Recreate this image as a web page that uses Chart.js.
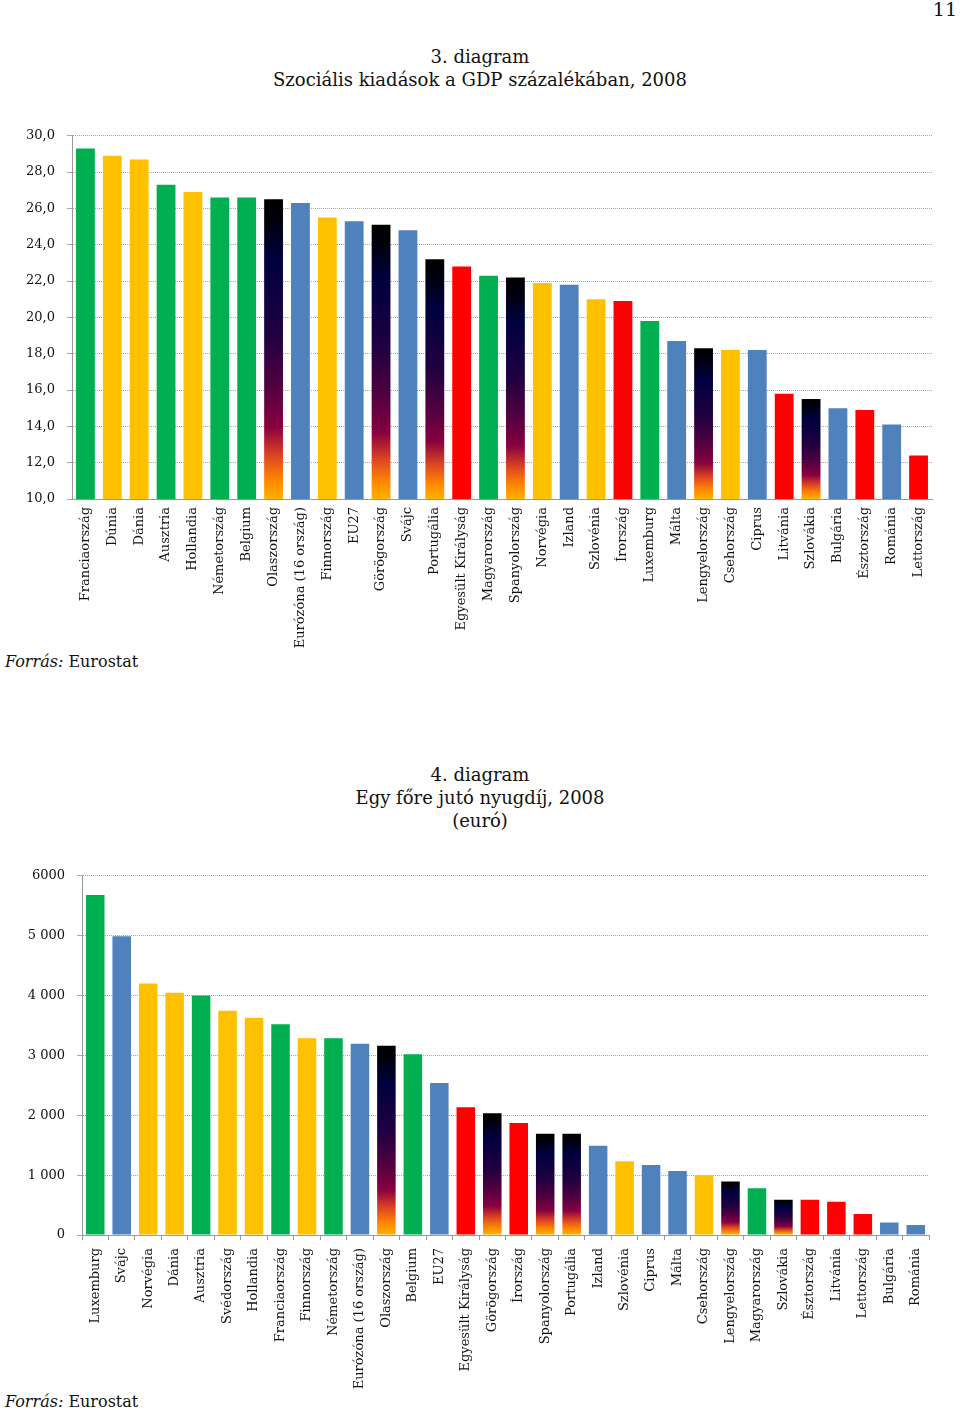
<!DOCTYPE html>
<html lang="hu">
<head>
<meta charset="utf-8">
<script src="https://cdn.jsdelivr.net/npm/chart.js@4.4.1/dist/chart.umd.min.js"></script>
<style>
  html, body { margin: 0; padding: 0; background: #fff; }
  body { width: 960px; height: 1410px; position: relative; overflow: hidden; font-family: "DejaVu Serif", serif; color: #111; }
  .t { position: absolute; left: 0; width: 960px; text-align: center; font-size: 18px; line-height: 23px; }
  .page { position: absolute; right: 3px; top: -2px; font-size: 19px; }
  .src { position: absolute; left: 5px; font-size: 16px; }
  .src i { font-style: italic; }
  canvas { position: absolute; left: 0; }
</style>
</head>
<body>
<div class="page">11</div>
<div class="t" style="top:45px">3. diagram<br>Szociális kiadások a GDP százalékában, 2008</div>
<canvas id="c1" width="960" height="534" style="top:116px"></canvas>
<div class="src" style="top:652px"><i>Forrás:</i> Eurostat</div>

<div class="t" style="top:763px">4. diagram<br>Egy főre jutó nyugdíj, 2008<br>(euró)</div>
<canvas id="c2" width="960" height="534" style="top:856px"></canvas>
<div class="src" style="top:1392px"><i>Forrás:</i> Eurostat</div>

<script>
// ---------- Chart 3 data ----------
const countries3 = ['Franciaország','Dúnia','Dánia','Ausztria','Hollandia','Németország','Belgium','Olaszország','Eurózóna (16 ország)','Finnország','EU27','Görögország','Svájc','Portugália','Egyesült Királyság','Magyarország','Spanyolország','Norvégia','Izland','Szlovénia','Írország','Luxemburg','Málta','Lengyelország','Csehország','Ciprus','Litvánia','Szlovákia','Bulgária','Észtország','Románia','Lettország'];
const values3 = [29.3,28.9,28.7,27.3,26.9,26.6,26.6,26.5,26.3,25.5,25.3,25.1,24.8,23.2,22.8,22.3,22.2,21.9,21.8,21.0,20.9,19.8,18.7,18.3,18.2,18.2,15.8,15.5,15.0,14.9,14.1,12.4];
const groups3 = ['G','Y','Y','G','Y','G','G','X','B','Y','B','X','B','X','R','G','X','Y','B','Y','R','G','B','X','Y','B','R','X','B','R','B','R'];
const yTicks3 = ['10,0','12,0','14,0','16,0','18,0','20,0','22,0','24,0','26,0','28,0','30,0'];

// ---------- Chart 4 data ----------
const countries4 = ['Luxemburg','Svájc','Norvégia','Dánia','Ausztria','Svédország','Hollandia','Franciaország','Finnország','Németország','Eurózóna (16 ország)','Olaszország','Belgium','EU27','Egyesült Királyság','Görögország','Írország','Spanyolország','Portugália','Izland','Szlovénia','Ciprus','Málta','Csehország','Lengyelország','Magyarország','Szlovákia','Észtország','Litvánia','Lettország','Bulgária','Románia'];
const values4 = [5680,4990,4200,4045,4000,3745,3630,3520,3285,3285,3195,3160,3020,2540,2135,2035,1870,1690,1690,1490,1230,1170,1070,1000,895,780,590,590,555,350,210,165];
const groups4 = ['G','B','Y','Y','G','Y','Y','G','Y','G','B','X','G','B','R','X','R','X','X','B','Y','B','B','Y','X','G','X','R','R','R','B','B'];
const yTicks4 = ['0','1 000','2 000','3 000','4 000','5 000','6000'];

const palette = { G: '#00B050', Y: '#FFC000', B: '#4F81BD', R: '#FF0000' };

function fillFor(groups) {
  return function (ctx) {
    const g = groups[ctx.dataIndex];
    if (g !== 'X') return palette[g];
    const chart = ctx.chart;
    if (!chart.chartArea || !chart.scales.y) return '#000';
    const ys = chart.scales.y;
    const top = ys.getPixelForValue(ctx.raw);
    const bot = ys.getPixelForValue(ys.min);
    const gr = chart.ctx.createLinearGradient(0, top, 0, bot);
    gr.addColorStop(0.00, '#000000');
    gr.addColorStop(0.08, '#000010');
    gr.addColorStop(0.20, '#000040');
    gr.addColorStop(0.45, '#200040');
    gr.addColorStop(0.62, '#500040');
    gr.addColorStop(0.76, '#880040');
    gr.addColorStop(0.86, '#e04820');
    gr.addColorStop(0.94, '#ff8a00');
    gr.addColorStop(1.00, '#ffb000');
    return gr;
  };
}

const tickFont = { family: 'DejaVu Serif', size: 13 };
const labelFont = { family: 'DejaVu Serif', size: 13 };

function makeChart(id, labels, values, groups, yTicks, cfg) {
  return new Chart(document.getElementById(id), {
    type: 'bar',
    data: {
      labels: labels,
      datasets: [{
        data: values,
        backgroundColor: fillFor(groups),
        borderWidth: 0,
        barPercentage: cfg.barPct,
        categoryPercentage: 1.0
      }]
    },
    options: {
      responsive: false,
      animation: false,
      devicePixelRatio: 1,
      layout: { padding: { top: 11, right: cfg.padRight, left: 0, bottom: 0 } },
      plugins: { legend: { display: false }, tooltip: { enabled: false }, title: { display: false } },
      scales: {
        x: {
          offset: true,
          grid: { display: cfg.xTicks, drawOnChartArea: false, drawTicks: cfg.xTicks, tickLength: 5, offset: true, color: '#999' },
          border: { display: true, color: '#999', width: 1 },
          ticks: { autoSkip: false, minRotation: 90, maxRotation: 90, color: '#111', font: labelFont, padding: cfg.xPad },
          afterFit: function (s) { s.height = cfg.xHeight; }
        },
        y: {
          min: cfg.min, max: cfg.max,
          grid: { color: '#a6a6a6', drawTicks: true, tickLength: 5 },
          border: { display: true, color: '#999', width: 1, dash: [1, 1] },
          ticks: {
            stepSize: cfg.step,
            color: '#111',
            font: tickFont,
            padding: 12,
            callback: function (v, i) { return yTicks[i]; }
          },
          afterFit: function (s) { s.width = cfg.yWidth; }
        }
      }
    }
  });
}

makeChart('c1', countries3, values3, groups3, yTicks3, {
  min: 10, max: 30, step: 2, yWidth: 72, padRight: 28, xHeight: 151, xTicks: false, xPad: 8, barPct: 0.7
});
makeChart('c2', countries4, values4, groups4, yTicks4, {
  min: 0, max: 6000, step: 1000, yWidth: 82, padRight: 31, xHeight: 155, xTicks: true, xPad: 8, barPct: 0.7
});
</script>
</body>
</html>
